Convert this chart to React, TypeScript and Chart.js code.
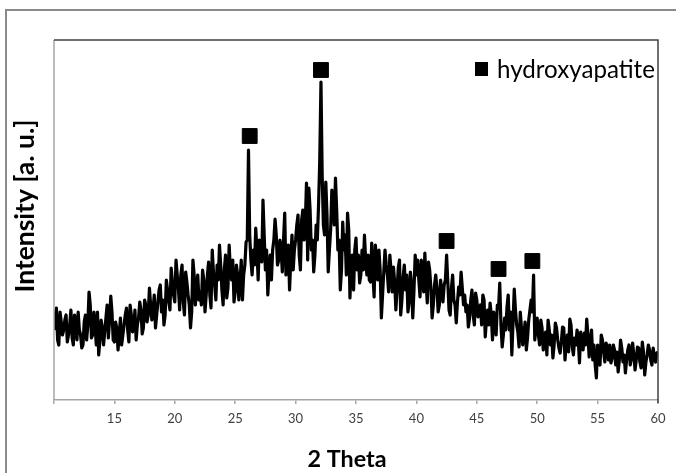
import React, { useEffect, useRef } from "react";
import { Chart, registerables } from "chart.js";

Chart.register(...registerables);

// 2-theta sampling (degrees): odd tenths (10.1 ... 59.9) and even tenths (10.0 ... 60.0)
const oddStart = 10.1;
const evenStart = 10.0;
const thetaStep = 0.2;

// Intensity at 10.1, 10.3, ... 59.9 (arbitrary units)
const intensityOdd = [
  85, 60, 88, 65, 80, 58, 75, 62, 85, 60,
  70, 52, 78, 60, 108, 62, 88, 55, 45, 80,
  55, 82, 62, 104, 60, 78, 50, 82, 65, 85,
  70, 95, 68, 90, 75, 98, 66, 100, 78, 112,
  80, 105, 85, 110, 88, 75, 120, 98, 132, 105,
  140, 112, 125, 98, 128, 105, 72, 140, 95, 125,
  108, 130, 88, 125, 105, 150, 115, 135, 155, 110,
  130, 102, 155, 120, 98, 135, 100, 140, 125, 158,
  250, 140, 150, 172, 120, 145, 200, 130, 105, 145,
  150, 181, 135, 160, 128, 187, 140, 110, 165, 150,
  175, 145, 180, 160, 217, 212, 150, 128, 175, 195,
  318, 175, 218, 128, 170, 195, 222, 150, 110, 178,
  165, 187, 102, 145, 150, 130, 117, 150, 165, 125,
  120, 157, 103, 140, 150, 82, 128, 135, 108, 130,
  133, 90, 132, 85, 123, 110, 88, 128, 82, 145,
  140, 103, 125, 147, 97, 130, 82, 115, 112, 95,
  108, 115, 145, 90, 112, 100, 77, 113, 128, 95,
  88, 73, 100, 85, 107, 83, 95, 105, 63, 90,
  97, 60, 72, 95, 117, 53, 82, 93, 70, 45,
  111, 75, 53, 72, 65, 50, 80, 100, 125, 72,
  65, 80, 50, 68, 80, 55, 42, 77, 60, 47,
  73, 40, 65, 81, 53, 62, 70, 37, 60, 67,
  81, 43, 70, 55, 22, 40, 65, 48, 57, 40,
  37, 55, 35, 28, 60, 38, 27, 50, 35, 57,
  30, 53, 38, 58, 25, 45, 50, 35, 43, 47,
];

// Intensity at 10.0, 10.2, ... 60.0
const intensityEven = [
  70, 92, 55, 78, 70, 85, 65, 90, 55, 78,
  88, 65, 55, 85, 75, 95, 65, 75, 88, 60,
  72, 68, 95, 80, 88, 58, 72, 65, 55, 75,
  92, 58, 85, 72, 60, 82, 90, 72, 95, 85,
  95, 90, 72, 98, 115, 100, 85, 110, 90, 118,
  98, 125, 90, 135, 85, 118, 95, 88, 125, 110,
  100, 95, 120, 105, 138, 92, 128, 100, 120, 135,
  95, 145, 112, 130, 140, 108, 125, 118, 100, 135,
  160, 165, 125, 135, 150, 160, 138, 165, 150, 128,
  120, 160, 165, 140, 150, 160, 125, 155, 140, 130,
  160, 185, 130, 190, 175, 140, 190, 160, 145, 160,
  240, 225, 165, 185, 150, 210, 175, 190, 160, 130,
  150, 125, 170, 135, 110, 162, 145, 125, 130, 140,
  145, 118, 125, 155, 120, 130, 105, 150, 125, 145,
  108, 118, 110, 140, 100, 135, 125, 98, 115, 110,
  125, 120, 140, 108, 118, 138, 112, 95, 125, 88,
  120, 98, 120, 118, 85, 125, 95, 98, 105, 112,
  105, 95, 82, 110, 75, 100, 90, 75, 100, 80,
  75, 85, 88, 65, 92, 75, 65, 70, 105, 88,
  78, 90, 68, 88, 55, 78, 62, 90, 88, 60,
  82, 55, 72, 62, 45, 70, 65, 55, 72, 52,
  58, 72, 55, 48, 75, 45, 55, 60, 68, 50,
  55, 65, 58, 40, 35, 55, 35, 60, 38, 52,
  55, 42, 50, 48, 40, 52, 45, 40, 55, 42,
  45, 40, 52, 32, 48, 38, 55, 40, 52, 38,
  48,
];

// hydroxyapatite reflection markers
const peakTheta = [26.2, 32.1, 42.5, 46.8, 49.6];
const peakMark = [264, 330, 159, 131, 139];

const xMin = 10;
const xMax = 60;
const xStep = 5;
const yMin = 0;
const yMax = 360;

const legendLabel = "hydroxyapatite";
const xTitle = "2 Theta";
const yTitle = "Intensity [a. u.]";

const FONT = "Lato, 'Open Sans', sans-serif";

function buildPattern() {
  const pts: { x: number; y: number }[] = [];
  for (let i = 0; i < intensityEven.length; i++) {
    pts.push({ x: +(evenStart + i * thetaStep).toFixed(1), y: intensityEven[i] });
    if (i < intensityOdd.length) {
      pts.push({ x: +(oddStart + i * thetaStep).toFixed(1), y: intensityOdd[i] });
    }
  }
  return pts;
}

function fitSize(ctx: CanvasRenderingContext2D, text: string, weight: string, target: number) {
  ctx.font = `${weight} 20px ${FONT}`;
  const w = ctx.measureText(text).width;
  return (20 * target) / w;
}

const decorPlugin = {
  id: "decor",
  beforeDraw(chart: any) {
    const { ctx, width, height } = chart;
    ctx.save();
    ctx.fillStyle = "#ffffff";
    ctx.fillRect(0, 0, width, height);
    ctx.strokeStyle = "#8a8a8a";
    ctx.lineWidth = 2;
    ctx.strokeRect(6, 10, width + 20, height + 20);
    ctx.restore();
  },
  afterDraw(chart: any) {
    const { ctx, chartArea } = chart;
    const { left, right, top, bottom } = chartArea;
    ctx.save();
    ctx.strokeStyle = "#a6a6a6";
    ctx.lineWidth = 1.5;
    ctx.beginPath();
    ctx.moveTo(left, top);
    ctx.lineTo(left, bottom);
    ctx.stroke();
    ctx.strokeStyle = "#404040";
    ctx.lineWidth = 1.5;
    ctx.beginPath();
    ctx.moveTo(left, top);
    ctx.lineTo(right, top);
    ctx.lineTo(right, bottom + 3);
    ctx.stroke();

    // legend
    ctx.fillStyle = "#000";
    ctx.fillRect(475, 62, 13, 14);
    const ls = fitSize(ctx, legendLabel, "normal", 158);
    ctx.font = `normal ${ls}px ${FONT}`;
    ctx.textAlign = "left";
    ctx.textBaseline = "alphabetic";
    ctx.fillText(legendLabel, 497, 78);

    // x title
    const xs = fitSize(ctx, xTitle, "bold", 79);
    ctx.font = `bold ${xs}px ${FONT}`;
    ctx.textAlign = "center";
    ctx.fillText(xTitle, 347, 467);

    // y title
    const ys = fitSize(ctx, yTitle, "bold", 173);
    ctx.font = `bold ${ys}px ${FONT}`;
    ctx.translate(34, 206);
    ctx.rotate(-Math.PI / 2);
    ctx.textAlign = "center";
    ctx.fillText(yTitle, 0, 0);
    ctx.restore();
  },
};

export default function App() {
  const canvasRef = useRef<HTMLCanvasElement | null>(null);

  useEffect(() => {
    const canvas = canvasRef.current;
    if (!canvas) return;
    const chart = new Chart(canvas, {
      type: "scatter",
      data: {
        datasets: [
          {
            label: "pattern",
            data: buildPattern(),
            showLine: true,
            borderColor: "#000",
            backgroundColor: "#000",
            borderWidth: 3.2,
            pointRadius: 0,
            tension: 0,
            borderJoinStyle: "round",
            order: 2,
          } as any,
          {
            label: legendLabel,
            data: peakTheta.map((t, i) => ({ x: t, y: peakMark[i] })),
            showLine: false,
            pointStyle: "rect",
            pointRadius: 10.5,
            pointBorderWidth: 1,
            borderColor: "#000",
            backgroundColor: "#000",
            order: 1,
          } as any,
        ],
      },
      options: {
        animation: false,
        responsive: false,
        maintainAspectRatio: false,
        layout: { padding: { left: 54, right: 18, top: 40, bottom: 0 } },
        plugins: {
          legend: { display: false },
          tooltip: { enabled: false },
          title: { display: false },
        },
        scales: {
          x: {
            type: "linear",
            min: xMin,
            max: xMax,
            afterFit: (scale: any) => {
              scale.height = 73;
            },
            ticks: {
              stepSize: xStep,
              color: "#404040",
              font: { family: FONT, size: 13 },
              padding: 7,
              maxRotation: 0,
              callback: (v: any) => (Number(v) === xMin ? "" : String(v)),
            },
            grid: {
              drawOnChartArea: false,
              drawTicks: true,
              tickLength: 4,
              color: "#a6a6a6",
              lineWidth: 1.5,
            },
            border: { display: true, color: "#a6a6a6", width: 1.5 },
          },
          y: {
            type: "linear",
            min: yMin,
            max: yMax,
            display: false,
          },
        },
      },
      plugins: [decorPlugin],
    });
    return () => chart.destroy();
  }, []);

  return (
    <div style={{ position: "fixed", left: 0, top: 0, width: 676, height: 473, background: "#fff" }}>
      <canvas ref={canvasRef} width={676} height={473} style={{ width: 676, height: 473, display: "block" }} />
    </div>
  );
}
